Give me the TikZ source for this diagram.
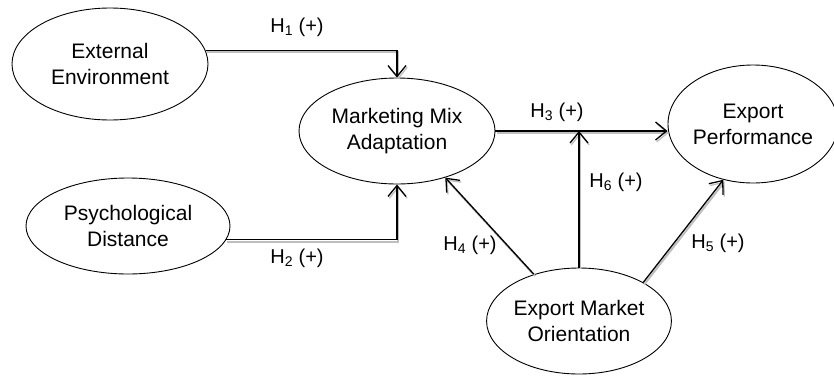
\documentclass[tikz,border=0pt]{standalone}
\usepackage{fontspec}
\setmainfont{Liberation Sans}
\usetikzlibrary{shapes.geometric,arrows.meta}
\begin{document}
\begin{tikzpicture}[x=1pt,y=-1pt,
 construct/.style={ellipse,draw,line width=0.9pt,inner sep=0pt,align=center,font=\fontsize{21}{26}\selectfont},
 link/.style={line width=1.3pt,-{Straight Barb[length=11pt,width=18pt,line width=1.3pt]},
   preaction={draw=black!25,line width=2pt,transform canvas={shift={(1.2pt,-1.8pt)}}}},
 hlabel/.style={font=\fontsize{20}{24}\selectfont,inner sep=0pt}]
\useasboundingbox (0,0) rectangle (834,375);
\node[construct,minimum width=196pt,minimum height=112pt] (ee) at (110,64) {External\\Environment};
\node[construct,minimum width=204pt,minimum height=96pt] (pd) at (128,226) {Psychological\\Distance};
\node[construct,minimum width=196pt,minimum height=106pt] (mma) at (397,131) {Marketing Mix\\Adaptation};
\node[construct,minimum width=160pt,minimum height=118pt] (ep) at (753,124) {Export\\Performance};
\node[construct,minimum width=168pt,minimum height=106pt] (emo) at (579,321) {Export Market\\Orientation};

\coordinate (h6end) at (emo.north |- mma.east);
\draw[link] (ee.8) -| (mma.north);
\draw[link] (pd.-8) -| (mma.south);
\draw[link] (mma.east) -- (mma.east -| ep.west);
\draw[link] (emo.north) -- (h6end);
\draw[link] (emo.134) -- (mma.-44);
\draw[link] (emo.31) -- (ep.-118);

\node[hlabel] (l1) at (297,27) {H\textsubscript{1} (+)};
\node[hlabel] (l2) at (297,258) {H\textsubscript{2} (+)};
\node[hlabel] (l3) at (557,112) {H\textsubscript{3} (+)};
\node[hlabel] (l6) at (616,182) {H\textsubscript{6} (+)};
\node[hlabel] (l4) at (470,245) {H\textsubscript{4} (+)};
\node[hlabel] (l5) at (718,243) {H\textsubscript{5} (+)};
\end{tikzpicture}
\end{document}
